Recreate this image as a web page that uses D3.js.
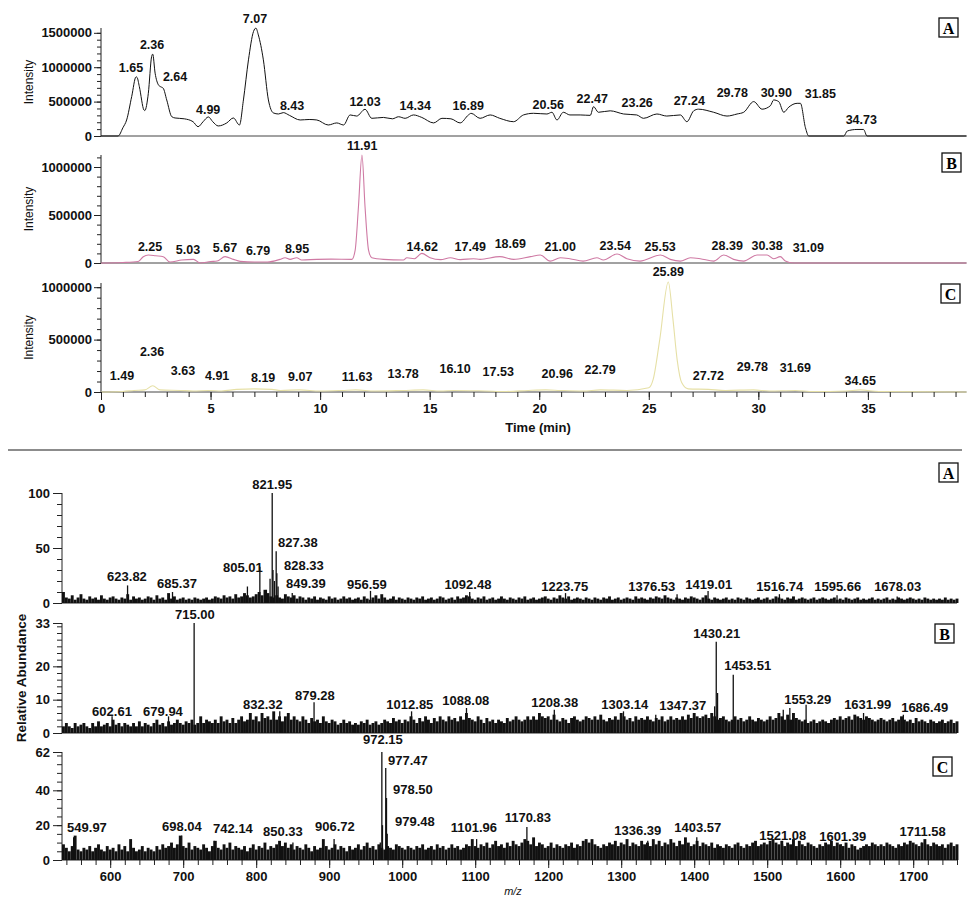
<!DOCTYPE html>
<html>
<head>
<meta charset="utf-8">
<script src="https://cdn.jsdelivr.net/npm/d3@7"></script>
<style>
  html, body { margin: 0; padding: 0; background: #fff; }
  svg { display: block; font-family: "Liberation Sans", Arial, sans-serif; }
  .tick text { font-size: 13px; font-weight: bold; fill: #111; }
  .tick line, .domain { stroke: #222; }
</style>
</head>
<body>
<div id="chart"></div>
<script>
// ---- chromatograms: [time (min), intensity] vertices
const traceA = [[0,0],[0.78,0],[1.0,120e3],[1.17,233e3],[1.4,572e3],[1.6,860e3],[1.65,850e3],[1.75,718e3],[1.96,378e3],[2.0,370e3],[2.16,621e3],[2.31,1155e3],[2.36,1190e3],[2.47,913e3],[2.62,743e3],[2.7,720e3],[2.84,694e3],[3.0,524e3],[3.23,281e3],[3.38,262e3],[3.8,250e3],[4.2,208e3],[4.43,135e3],[4.66,208e3],[4.9,277e3],[5.1,208e3],[5.35,146e3],[5.74,190e3],[6.04,262e3],[6.32,160e3],[6.5,524e3],[6.73,1107e3],[6.96,1519e3],[7.07,1568e3],[7.18,1470e3],[7.41,1107e3],[7.64,524e3],[7.87,335e3],[8.1,320e3],[8.32,340e3],[8.6,300e3],[9.09,233e3],[9.5,240e3],[9.85,233e3],[10.37,160e3],[10.76,190e3],[11.07,160e3],[11.37,306e3],[11.67,290e3],[12.05,388e3],[12.36,257e3],[12.89,270e3],[13.3,250e3],[13.58,280e3],[13.88,257e3],[14.26,306e3],[14.64,270e3],[15.18,190e3],[15.56,257e3],[15.97,250e3],[16.39,190e3],[16.77,306e3],[16.89,330e3],[17.3,257e3],[17.76,306e3],[18.2,257e3],[18.83,208e3],[19.28,306e3],[19.74,330e3],[20.35,320e3],[20.58,345e3],[20.81,233e3],[21.1,345e3],[21.4,306e3],[21.87,306e3],[22.33,300e3],[22.48,427e3],[22.7,345e3],[23.24,366e3],[23.85,320e3],[24.45,306e3],[24.76,257e3],[25.37,320e3],[25.82,290e3],[26.44,306e3],[26.74,208e3],[27.05,366e3],[27.27,390e3],[27.96,345e3],[28.57,290e3],[29.03,320e3],[29.33,345e3],[29.79,500e3],[30.17,390e3],[30.55,440e3],[30.7,524e3],[30.93,500e3],[31.16,345e3],[31.39,420e3],[31.77,475e3],[31.92,475e3],[32.15,120e3],[32.3,0],[33.9,0],[34.06,73e3],[34.5,95e3],[34.8,95e3],[34.96,0],[39.5,0]];
const traceB = [[0,0],[1.0,5e3],[1.7,15e3],[1.93,66e3],[2.16,83e3],[2.5,75e3],[2.84,66e3],[3.15,10e3],[3.68,31e3],[4.22,38e3],[4.52,0],[5.0,15e3],[5.3,20e3],[5.66,66e3],[6.04,38e3],[6.35,17e3],[7.0,10e3],[7.6,10e3],[8.17,38e3],[8.4,55e3],[8.63,38e3],[8.93,55e3],[9.16,31e3],[9.85,38e3],[10.5,40e3],[11.45,38e3],[11.6,135e3],[11.75,586e3],[11.91,1125e3],[12.05,586e3],[12.21,135e3],[12.36,55e3],[12.89,38e3],[13.8,31e3],[13.96,55e3],[14.3,45e3],[14.64,100e3],[15.02,55e3],[15.5,35e3],[15.94,55e3],[16.4,35e3],[17.0,45e3],[17.3,38e3],[18.2,66e3],[18.83,38e3],[19.6,66e3],[20.05,83e3],[20.5,20e3],[20.96,55e3],[21.4,45e3],[22.0,20e3],[22.63,55e3],[22.93,31e3],[23.55,93e3],[24.0,45e3],[24.6,20e3],[25.53,83e3],[25.98,38e3],[26.44,20e3],[26.9,55e3],[27.35,45e3],[27.96,20e3],[28.42,83e3],[28.87,38e3],[29.33,20e3],[29.94,83e3],[30.4,83e3],[30.7,45e3],[31.0,66e3],[31.23,20e3],[31.6,0],[39.5,0]];
const traceC = [[0,0],[1.0,5e3],[1.5,15e3],[2.0,20e3],[2.36,60e3],[2.7,20e3],[3.63,15e3],[4.2,10e3],[4.91,15e3],[5.5,10e3],[6.2,25e3],[7.0,30e3],[7.8,25e3],[8.19,15e3],[9.07,20e3],[10.0,10e3],[11.0,15e3],[11.63,20e3],[12.5,10e3],[13.78,15e3],[14.7,20e3],[15.5,10e3],[16.1,15e3],[17.53,10e3],[18.5,5e3],[19.5,15e3],[20.3,20e3],[20.96,15e3],[22.0,10e3],[22.79,20e3],[24.0,15e3],[25.0,40e3],[25.2,120e3],[25.5,500e3],[25.89,1050e3],[26.1,700e3],[26.3,300e3],[26.5,90e3],[26.8,30e3],[27.72,25e3],[28.5,15e3],[29.78,20e3],[30.5,10e3],[31.69,15e3],[32.5,5e3],[34.0,10e3],[34.65,20e3],[35.5,5e3],[39.5,0]];

// peak labels: [text, anchor time, anchor intensity]
const labelsA = [["1.65",1.37,932e3],["2.36",2.33,1267e3],["2.64",3.38,801e3],["4.99",4.89,320e3],["7.07",7.03,1646e3],["8.43",8.72,379e3],["12.03",12.05,437e3],["14.34",14.34,379e3],["16.89",16.76,379e3],["20.56",20.41,393e3],["22.47",22.42,481e3],["23.26",24.47,422e3],["27.24",26.85,451e3],["29.78",28.81,568e3],["30.90",30.82,568e3],["31.85",32.83,553e3],["34.73",34.70,175e3]];
const labelsB = [["2.25",2.24,125e3],["5.03",3.97,94e3],["5.67",5.66,115e3],["6.79",7.17,83e3],["8.95",8.95,104e3],["11.91",11.92,1177e3],["14.62",14.66,125e3],["17.49",16.85,125e3],["18.69",18.68,156e3],["21.00",20.96,125e3],["23.54",23.47,135e3],["25.53",25.52,125e3],["28.39",28.58,135e3],["30.38",30.4,135e3],["31.09",32.28,115e3]];
const labelsC = [["1.49",0.96,114e3],["2.36",2.33,343e3],["3.63",3.74,162e3],["4.91",5.3,114e3],["8.19",7.4,95e3],["9.07",9.09,105e3],["11.63",11.69,105e3],["13.78",13.79,133e3],["16.10",16.16,181e3],["17.53",18.13,152e3],["20.96",20.82,133e3],["22.79",22.78,171e3],["25.89",25.89,1105e3],["27.72",27.72,114e3],["29.78",29.73,200e3],["31.69",31.69,190e3],["34.65",34.65,67e3]];

const timeTicks = [0, 5, 10, 15, 20, 25, 30, 35];

// ---- mass spectra: baseline noise every 4 m/z from 536, plus resolved peaks [m/z, rel. abundance]
const noiseStart = 536, noiseStep = 4;
const noiseA = [
  10,5,4,7,3,5,8,4,3,6,4,5,3,7,4,3,5,6,4,3,
  5,4,8,3,6,4,5,3,4,6,5,3,7,4,5,3,9,4,6,3,
  4,5,3,4,3,5,4,3,4,5,3,4,6,5,4,7,5,6,4,8,
  5,6,9,7,5,6,8,10,7,12,9,6,5,7,5,4,8,6,5,7,
  4,6,5,3,5,4,6,3,5,4,3,6,4,5,3,4,6,4,5,3,
  4,5,3,6,4,3,5,7,4,8,5,3,4,6,3,5,4,3,5,4,
  3,5,4,6,3,4,5,3,4,6,5,3,4,5,3,6,4,5,7,6,
  4,3,5,4,6,3,4,5,3,4,6,4,3,5,4,3,5,4,6,3,
  4,5,3,4,5,6,4,3,5,4,7,5,4,6,3,4,5,4,3,5,
  4,3,5,4,3,5,4,6,3,4,5,3,4,5,4,3,6,4,5,4,
  3,5,4,6,5,4,7,5,4,3,5,4,3,5,4,6,5,4,3,5,
  7,4,3,5,4,3,4,5,3,4,3,5,4,3,5,4,3,4,5,3,
  4,5,3,4,6,5,4,3,5,4,6,3,4,5,4,3,4,5,3,4,
  5,4,3,4,5,3,4,3,5,4,3,4,5,3,4,3,4,5,3,4,
  3,4,5,3,4,3,5,4,3,4,5,4,3,4,3,5,4,3,4,3,
  4,3,5,3,4,3,4];
const noiseB = [
  2,3,2,1.5,3,2,2.5,3,2,1.5,3,2,3.5,2,2.5,3,2,4,2.5,3,
  2,3,2.5,2,3,2,3.5,2,3,2.5,2,3,4,2.5,3,2,3.5,2.5,3,4,
  3,2.5,3.5,3,4,2.5,3,5,3,4,3.5,3,4,3,5,3.5,4,3,4.5,3,
  4,5,3.5,4,6,4,5,3.5,6,4.5,5,4,6.5,4,5,3.5,5,6,4,5,
  4,3.5,5,4,3,4.5,3.5,4,3,5,3.5,3,4,3.5,2.5,3,4,3,3.5,2.5,
  3,2.5,3.5,3,4,2.5,3,3.5,2.5,3,4,3.5,3,4.5,3.5,4,3,4,3.5,5,
  4,3,4.5,3.5,5,4,3,4.5,3.5,5,4,3.5,5,4,4.5,3.5,5,4,6,4.5,
  4,3.5,5,4,3,4.5,3.5,4,3,4,3.5,3,4.5,3.5,4,5,4,3.5,4,5,
  4,5,4,6,5,4.5,5,4,5.5,4,3.5,4.5,4,3,4.5,5,4,3.5,4,5,
  4.5,4,5,4,5.5,4,3.5,4.5,4,5,4,6,5,4,4.5,3.5,5,4,4.5,4,
  5,4,3.5,4.5,4,5,3.5,4,5,4,4.5,4,5,4,5.5,4.5,6,5,4.5,5,
  5.5,4.5,6,5,4,4.5,5,4,3.5,4,5,4,4.5,3.5,4,5,4,3.5,4.5,4,
  3.5,4,5,4,4.5,6,5,4,5.5,4,6,4.5,4,3.5,4,3,3.5,4,3,3.5,
  4,3.5,3,4,4.5,4,5,4,4.5,5,4,5.5,5,4.5,4,5,4.5,4,3.5,4,
  4.5,4,3.5,4,4.5,3.5,4,5,4,3.5,4,3,4.5,3.5,4,3.5,3,4,3.5,3,
  3.5,4,3,3.5,4,3,3.5];
const noiseC = [
  9,7,5,8,14,6,5,7,6,8,5,7,9,6,5,8,6,7,5,9,
  6,8,5,12,7,5,6,8,5,7,6,5,8,6,9,7,8,10,7,9,
  14,8,7,10,6,8,7,6,9,7,5,8,11,7,6,9,7,10,6,8,
  7,6,8,5,7,9,6,8,7,10,6,8,7,9,11,8,10,7,9,6,
  8,7,6,9,7,5,8,6,7,12,8,6,7,9,6,8,7,5,8,6,
  7,9,6,8,10,7,8,6,9,7,6,8,7,6,9,8,7,6,8,7,
  6,8,7,9,6,7,8,6,9,7,8,6,7,9,7,8,6,7,9,8,
  12,8,7,9,8,10,7,9,11,8,9,7,10,8,11,9,8,10,12,11,
  9,13,8,10,9,7,8,10,7,9,8,7,9,8,10,7,9,8,11,12,
  10,12,9,8,7,9,8,10,9,11,8,10,9,12,8,10,9,8,11,9,
  10,8,12,9,11,8,10,9,12,10,8,11,9,13,10,8,9,11,8,10,
  9,8,10,7,9,8,7,9,8,7,9,10,8,7,9,8,10,11,8,9,
  10,9,11,12,10,9,11,8,10,9,12,8,11,9,8,10,9,8,7,9,
  8,10,9,11,8,10,9,8,10,7,9,8,6,7,8,9,8,10,9,8,
  9,8,10,9,8,7,9,8,10,9,11,10,9,8,10,12,9,8,10,9,
  8,9,7,9,10,8,9];

const peaksA = [[623.82,16],[685.37,10],[788,15],[805.01,33],[814,12],[819,22],[821.95,100],[823,30],[825,20],[827.38,47],[828.33,27],[830,15],[849.39,9],[956.59,11],[1092.48,10],[1223.75,9],[1376.53,8],[1419.01,11],[1516.74,8],[1595.66,7],[1678.03,6]];
const peaksB = [[602.61,5],[679.94,5],[715.00,33],[832.32,6.5],[879.28,9.2],[1012.85,6.5],[1088.08,7.5],[1208.38,7],[1303.14,6.5],[1347.37,5.5],[1428,8],[1430.21,27.4],[1432,12],[1453.51,17.5],[1522,7],[1531,7.5],[1553.29,8.5],[1631.99,6],[1686.49,5.5]];
const peaksC = [[549.97,13],[698.04,14],[742.14,11],[850.33,10],[906.72,12],[970,10],[972.15,62],[973,20],[977.47,52.8],[978.50,35.6],[979.48,15],[1101.96,12],[1170.83,19],[1336.39,11],[1403.57,13],[1521.08,9],[1601.39,9],[1711.58,10]];

// [text, anchor m/z, anchor abundance]
const msLabelsA = [["821.95",822,103.6],["827.38",857.2,50.9],["805.01",781.8,28.2],["828.33",865.4,30],["849.39",868.1,13.6],["623.82",623,20],["685.37",691.5,13.6],["956.59",951.6,12.7],["1092.48",1090,12.7],["1223.75",1222.8,10.9],["1376.53",1341.9,10.9],["1419.01",1419.9,12.7],["1516.74",1517.2,10.9],["1595.66",1596.6,10.9],["1678.03",1678.7,10.9]];
const msLabelsB = [["715.00",716.1,34.1],["1430.21",1430.9,28.5],["1453.51",1473.3,18.8],["602.61",602.5,5],["679.94",672.3,5],["832.32",809.2,7.1],["879.28",880.4,10],["1012.85",1010.5,7.1],["1088.08",1087.2,8.5],["1208.38",1209.1,7.9],["1303.14",1304.9,7.1],["1347.37",1384.3,6.8],["1553.29",1555.5,8.8],["1631.99",1637.6,7.1],["1686.49",1715.7,6.2]];
const msLabelsC = [["972.15",973.5,66.6],["977.47",1007.8,54.5],["978.50",1014.6,37.9],["979.48",1017.4,19.5],["549.97",568.2,16.1],["698.04",698.3,16.6],["742.14",768.2,15.5],["850.33",836.6,13.8],["906.72",907.8,16.6],["1101.96",1098.2,16.1],["1170.83",1172.1,21.8],["1336.39",1322.7,14.4],["1403.57",1404.9,16.1],["1521.08",1521.3,11.5],["1601.39",1603.4,10.9],["1711.58",1713,13.8]];

const mzTicks = [600, 700, 800, 900, 1000, 1100, 1200, 1300, 1400, 1500, 1600, 1700];

const width = 967, height = 899;
const svg = d3.select('#chart').append('svg')
  .attr('width', width).attr('height', height);

/* ---------- top half: chromatograms ---------- */
const xT = d3.scaleLinear().domain([0, 39.5]).range([101, 966.5]);

const chromPanels = [
  {trace: traceA, labels: labelsA, top: 1570000, y0: 136, y1: 28, major: [0, 500000, 1000000, 1500000], color: '#111', lw: 1, box: 'A', bx: 939, by: 18},
  {trace: traceB, labels: labelsB, top: 1125000, y0: 263, y1: 155, major: [0, 500000, 1000000], color: '#cf7aa4', lw: 1.1, box: 'B', bx: 942, by: 153},
  {trace: traceC, labels: labelsC, top: 1040000, y0: 392, y1: 283, major: [0, 500000, 1000000], color: '#e6e0a6', lw: 1.1, box: 'C', bx: 941, by: 284}
];

function letterBox(g, letter, x, y) {
  g.append('rect').attr('x', x).attr('y', y).attr('width', 19).attr('height', 19)
    .attr('fill', '#fff').attr('stroke', '#111').attr('stroke-width', 1.3);
  g.append('text').attr('x', x + 9.5).attr('y', y + 15.5)
    .attr('text-anchor', 'middle')
    .style('font-family', '"Liberation Serif", "Times New Roman", serif')
    .style('font-weight', 'bold').style('font-size', '16px').text(letter);
}

chromPanels.forEach(p => {
  const g = svg.append('g');
  const y = d3.scaleLinear().domain([0, p.top]).range([p.y0, p.y1]);

  // minor ticks every 100000
  g.append('g').attr('transform', 'translate(101,0)')
    .call(d3.axisLeft(y).tickValues(d3.range(0, p.top, 100000)).tickSize(4).tickFormat(''))
    .call(a => a.select('.domain').remove());
  g.append('g').attr('transform', 'translate(101,0)')
    .call(d3.axisLeft(y).tickValues(p.major).tickSize(7).tickPadding(2).tickFormat(d3.format('d')))
    .call(a => a.select('.domain').attr('d', `M0,${p.y1}V${p.y0}`));

  // baseline
  g.append('line').attr('x1', xT(0)).attr('x2', xT(39.5))
    .attr('y1', p.y0).attr('y2', p.y0).attr('stroke', '#444').attr('stroke-width', 1);

  const line = d3.line().x(d => xT(d[0])).y(d => y(d[1])).curve(d3.curveMonotoneX);
  g.append('path').datum(p.trace).attr('d', line)
    .attr('fill', 'none').attr('stroke', p.color).attr('stroke-width', p.lw);

  g.selectAll('.pk').data(p.labels).enter().append('text')
    .attr('x', d => xT(d[1])).attr('y', d => y(d[2]))
    .attr('text-anchor', 'middle')
    .style('font-size', '12.5px').style('font-weight', 'bold').attr('fill', '#111')
    .text(d => d[0]);

  g.append('text')
    .attr('transform', `translate(33,${(p.y0 + p.y1) / 2}) rotate(-90)`)
    .attr('text-anchor', 'middle').style('font-size', '12px').attr('fill', '#111')
    .text('Intensity');

  letterBox(g, p.box, p.bx, p.by);
});

// time axis under panel C
const yC0 = chromPanels[2].y0;
svg.append('g').attr('transform', `translate(0,${yC0})`)
  .call(d3.axisBottom(xT).tickValues(d3.range(0, 40, 1)).tickSize(5).tickFormat(''))
  .call(a => a.select('.domain').remove());
svg.append('g').attr('transform', `translate(0,${yC0})`)
  .call(d3.axisBottom(xT).tickValues(timeTicks).tickSize(8).tickPadding(4).tickFormat(d3.format('d')))
  .call(a => a.select('.domain').remove());
svg.append('text').attr('x', 538).attr('y', 432).attr('text-anchor', 'middle')
  .style('font-size', '13px').style('font-weight', 'bold').attr('fill', '#111').text('Time (min)');

// divider
svg.append('line').attr('x1', 8).attr('x2', 962).attr('y1', 450).attr('y2', 450)
  .attr('stroke', '#666').attr('stroke-width', 1.5);

/* ---------- bottom half: mass spectra ---------- */
const xM = d3.scaleLinear().domain([534, 1760]).range([62, 957]);

const msPanels = [
  {noise: noiseA, peaks: peaksA, labels: msLabelsA, top: 100, y0: 603, y1: 493, major: [0, 50, 100], minor: d3.range(0, 100, 10), box: 'A', bx: 939, by: 463},
  {noise: noiseB, peaks: peaksB, labels: msLabelsB, top: 33, y0: 733, y1: 623, major: [0, 10, 20, 33], minor: d3.range(0, 33, 2), box: 'B', bx: 935, by: 624},
  {noise: noiseC, peaks: peaksC, labels: msLabelsC, top: 62, y0: 860, y1: 752, major: [0, 20, 40, 62], minor: d3.range(0, 62, 5), box: 'C', bx: 933, by: 757}
];

msPanels.forEach(p => {
  const g = svg.append('g');
  const y = d3.scaleLinear().domain([0, p.top]).range([p.y0, p.y1]);

  g.append('g').attr('transform', 'translate(62,0)')
    .call(d3.axisLeft(y).tickValues(p.minor).tickSize(5).tickFormat(''))
    .call(a => a.select('.domain').remove());
  g.append('g').attr('transform', 'translate(62,0)')
    .call(d3.axisLeft(y).tickValues(p.major).tickSize(9).tickPadding(3).tickFormat(d3.format('d')))
    .call(a => a.select('.domain').attr('d', `M0,${p.y1}V${p.y0}`));

  g.append('line').attr('x1', xM(534)).attr('x2', xM(1760))
    .attr('y1', p.y0).attr('y2', p.y0).attr('stroke', '#222');

  // dense noise: wide sticks so neighbours merge into a band
  g.selectAll('.nz').data(p.noise).enter().append('line')
    .attr('x1', (d, i) => xM(noiseStart + i * noiseStep))
    .attr('x2', (d, i) => xM(noiseStart + i * noiseStep))
    .attr('y1', y(0)).attr('y2', d => y(d))
    .attr('stroke', '#111').attr('stroke-width', 2.9);

  g.selectAll('.pk').data(p.peaks).enter().append('line')
    .attr('x1', d => xM(d[0])).attr('x2', d => xM(d[0]))
    .attr('y1', y(0)).attr('y2', d => y(d[1]))
    .attr('stroke', '#111').attr('stroke-width', 1.3);

  g.selectAll('.lb').data(p.labels).enter().append('text')
    .attr('x', d => xM(d[1])).attr('y', d => y(d[2]))
    .attr('text-anchor', 'middle')
    .style('font-size', '13px').style('font-weight', 'bold').attr('fill', '#111')
    .text(d => d[0]);

  letterBox(g, p.box, p.bx, p.by);
});

svg.append('text')
  .attr('transform', `translate(26,678) rotate(-90)`)
  .attr('text-anchor', 'middle').style('font-size', '13.5px').style('font-weight', 'bold')
  .attr('fill', '#111').text('Relative Abundance');

const yM0 = msPanels[2].y0;
svg.append('g').attr('transform', `translate(0,${yM0})`)
  .call(d3.axisBottom(xM).tickValues(d3.range(540, 1761, 20)).tickSize(5).tickFormat(''))
  .call(a => a.select('.domain').remove());
svg.append('g').attr('transform', `translate(0,${yM0})`)
  .call(d3.axisBottom(xM).tickValues(mzTicks).tickSize(8).tickPadding(4).tickFormat(d3.format('d')))
  .call(a => a.select('.domain').remove());
svg.append('text').attr('x', 513).attr('y', 895).attr('text-anchor', 'middle')
  .style('font-size', '11px').style('font-style', 'italic').attr('fill', '#111').text('m/z');
</script>
</body>
</html>
